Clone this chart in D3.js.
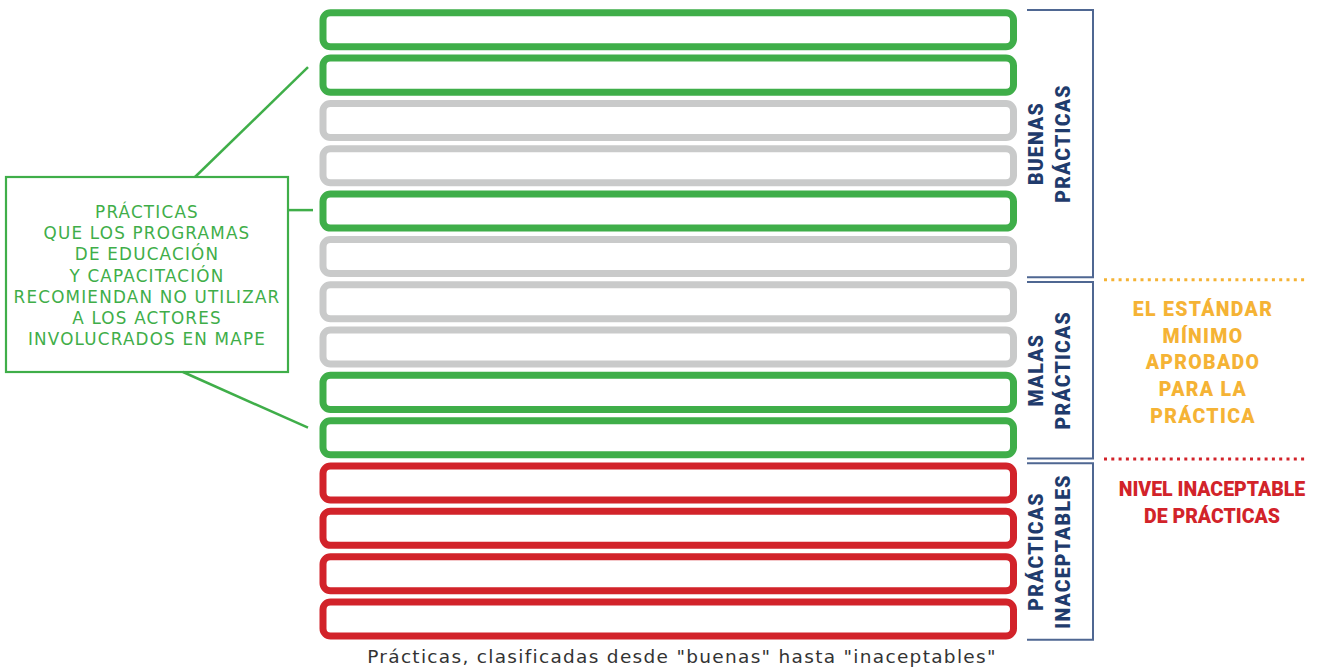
<!DOCTYPE html>
<html>
<head>
<meta charset="utf-8">
<script src="https://cdn.jsdelivr.net/npm/d3@7"></script>
<style>
  html, body { margin: 0; padding: 0; background: #ffffff; }
  svg { display: block; }
</style>
</head>
<body>
<svg id="chart" width="1319" height="668"></svg>
<script>
// ---------------- DATA ----------------
const practiceIds = [1, 2, 3, 4, 5, 6, 7, 8, 9, 10, 11, 12, 13, 14];
const practiceStatus = [
  "señalada", "señalada", "neutral", "neutral", "señalada", "neutral",
  "neutral", "neutral", "señalada", "señalada",
  "inaceptable", "inaceptable", "inaceptable", "inaceptable"
];
const groupNames = [["BUENAS", "PRÁCTICAS"], ["MALAS", "PRÁCTICAS"], ["PRÁCTICAS", "INACEPTABLES"]];
const groupFirst = [1, 7, 11];
const groupLast = [6, 10, 14];
const calloutLines = [
  "PRÁCTICAS", "QUE LOS PROGRAMAS", "DE EDUCACIÓN", "Y CAPACITACIÓN",
  "RECOMIENDAN NO UTILIZAR", "A LOS ACTORES", "INVOLUCRADOS EN MAPE"
];
const calloutTargets = [2, 5, 10];
const standardLines = ["EL ESTÁNDAR", "MÍNIMO", "APROBADO", "PARA LA", "PRÁCTICA"];
const unacceptableLines = ["NIVEL INACEPTABLE", "DE PRÁCTICAS"];
const axisCaption = 'Prácticas, clasificadas desde "buenas" hasta "inaceptables"';

// ---------------- STYLE ----------------
const colors = { "señalada": "#3fae49", "neutral": "#c9caca", "inaceptable": "#d2232a" };
const navy = "#1f3b6c";
const bracketColor = "#4f6792";
const orange = "#f5b335";
const red = "#d2232a";
const green = "#3fae49";

const svg = d3.select("#chart");

const y = d3.scaleBand()
  .domain(practiceIds)
  .range([9.3, 639.5])
  .paddingInner(0.095)
  .paddingOuter(0);

const x = d3.scaleLinear().domain([0, 1]).range([319.5, 1017]);

const sw = 7;
// bars
svg.append("g").selectAll("rect")
  .data(practiceIds)
  .join("rect")
  .attr("x", x(0) + sw / 2)
  .attr("y", d => y(d) + sw / 2)
  .attr("width", x(1) - x(0) - sw)
  .attr("height", y.bandwidth() - sw)
  .attr("rx", 7.5)
  .attr("ry", 7.5)
  .attr("fill", "#ffffff")
  .attr("stroke", (d, i) => colors[practiceStatus[i]])
  .attr("stroke-width", sw);

// brackets
const bx0 = 1027, bx1 = 1093;
const groups = groupNames.map((n, i) => ({
  name: n,
  top: y(groupFirst[i]) + 0.7,
  bottom: y(groupLast[i]) + y.bandwidth() + 0.3
}));
const bg = svg.append("g");
groups.forEach(g => {
  bg.append("path")
    .attr("d", `M${bx0},${g.top}H${bx1}V${g.bottom}H${bx0}`)
    .attr("fill", "none")
    .attr("stroke", bracketColor)
    .attr("stroke-width", 2);
  const cy = (g.top + g.bottom) / 2;
  g.name.forEach((line, j) => {
    bg.append("text")
      .attr("transform", `translate(${1042.5 + j * 27.5},${cy}) rotate(-90)`)
      .attr("text-anchor", "middle")
      .attr("font-family", "Roboto, 'DejaVu Sans', sans-serif")
      .attr("font-weight", 900)
      .attr("font-size", 19.5)
      .attr("letter-spacing", 1.2)
      .attr("fill", navy)
      .text(line);
  });
});

// dotted threshold lines
const thresholds = [
  { y: y(7) - 1.5, color: orange },
  { y: y(11) - 3.5, color: red }
];
svg.append("g").selectAll("line")
  .data(thresholds)
  .join("line")
  .attr("x1", 1104).attr("x2", 1307)
  .attr("y1", d => d.y).attr("y2", d => d.y)
  .attr("stroke", d => d.color)
  .attr("stroke-width", 3)
  .attr("stroke-dasharray", "3,4.3");

// right-hand texts
const rt = svg.append("g")
  .attr("font-family", "Roboto, 'DejaVu Sans', sans-serif")
  .attr("font-weight", 900)
  .attr("text-anchor", "middle");
standardLines.forEach((line, i) => {
  rt.append("text")
    .attr("x", 1203).attr("y", 316 + i * 26.7)
    .attr("font-size", 19.5)
    .attr("letter-spacing", 1.3)
    .attr("fill", orange)
    .text(line);
});
unacceptableLines.forEach((line, i) => {
  rt.append("text")
    .attr("x", 1212).attr("y", 496 + i * 26.6)
    .attr("font-size", 19.5)
    .attr("letter-spacing", 0)
    .attr("fill", red)
    .text(line);
});

// callout
const box = { x0: 6, x1: 288, y0: 177, y1: 372 };
const cg = svg.append("g");
cg.append("rect")
  .attr("x", box.x0).attr("y", box.y0)
  .attr("width", box.x1 - box.x0).attr("height", box.y1 - box.y0)
  .attr("fill", "#fff")
  .attr("stroke", green).attr("stroke-width", 2.2);
const midY = d => y(d) + y.bandwidth() / 2;
const connectors = [
  { x1: 195, y1: box.y0, x2: 308, y2: midY(calloutTargets[0]) - 8 },
  { x1: box.x1, y1: midY(calloutTargets[1]) - 1, x2: 313, y2: midY(calloutTargets[1]) - 1 },
  { x1: 183, y1: box.y1, x2: 308, y2: midY(calloutTargets[2]) - 10 }
];
cg.selectAll("line")
  .data(connectors)
  .join("line")
  .attr("x1", d => d.x1).attr("y1", d => d.y1)
  .attr("x2", d => d.x2).attr("y2", d => d.y2)
  .attr("stroke", green).attr("stroke-width", 2.5);
calloutLines.forEach((line, i) => {
  cg.append("text")
    .attr("x", 147).attr("y", 218 + i * 21.2)
    .attr("text-anchor", "middle")
    .attr("font-family", "'DejaVu Sans', 'Noto Sans', sans-serif")
    .attr("font-size", 16.8)
    .attr("letter-spacing", 1.2)
    .attr("fill", green)
    .text(line);
});

// caption
svg.append("text")
  .attr("x", 682).attr("y", 663)
  .attr("text-anchor", "middle")
  .attr("font-family", "'DejaVu Sans', 'Noto Sans', sans-serif")
  .attr("font-size", 18.5)
  .attr("letter-spacing", 1.3)
  .attr("fill", "#333333")
  .text(axisCaption);
</script>
</body>
</html>
